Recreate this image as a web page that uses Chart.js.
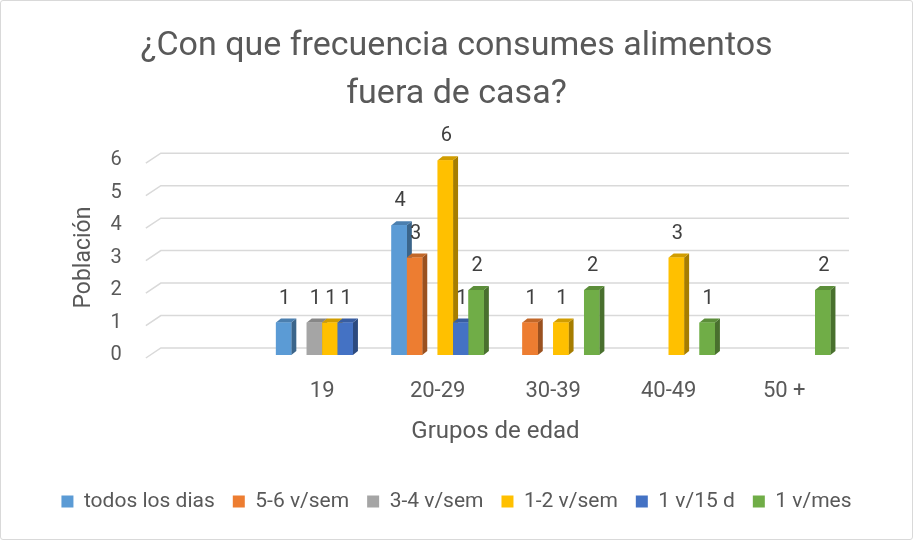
<!DOCTYPE html>
<html>
<head>
<meta charset="utf-8">
<script src="https://cdn.jsdelivr.net/npm/chart.js@4.4.0/dist/chart.umd.min.js"></script>
<style>
  body { margin: 0; background: #fff; }
  #wrap { width: 913px; height: 540px; box-sizing: border-box; border: 1px solid #d9d9d9; border-radius: 3px; }
</style>
</head>
<body>
<div id="wrap"><canvas id="chart"></canvas></div>
<script>
// datos
const categories = ["", "19", "20-29", "30-39", "40-49", "50 +"];
const seriesNames = ["todos los dias", "5-6 v/sem", "3-4 v/sem", "1-2 v/sem", "1 v/15 d", "1 v/mes"];
const todosLosDias = [null, 1, 4, null, null, null];
const cincoSeisSem = [null, null, 3, 1, null, null];
const tresCuatroSem = [null, 1, null, null, null, null];
const unoDosSem = [null, 1, 6, 1, 3, null];
const unoQuinceDias = [null, 1, 1, null, null, null];
const unoMes = [null, null, 2, 2, 1, 2];
const yTicks = [0, 1, 2, 3, 4, 5, 6];

const colors = ["#5B9BD5", "#ED7D31", "#A5A5A5", "#FFC000", "#4472C4", "#70AD47"];
const FONT = 'Roboto, sans-serif';
const D = 5, DY = 4; // profundidad 3D

function shade(hex, f) {
  const n = parseInt(hex.slice(1), 16);
  const r = Math.round(((n >> 16) & 255) * f);
  const g = Math.round(((n >> 8) & 255) * f);
  const b = Math.round((n & 255) * f);
  return `rgb(${r},${g},${b})`;
}

// lineas de fondo con el piso inclinado
const backGrid = {
  id: "backGrid",
  beforeDatasetsDraw(chart) {
    const { ctx, chartArea, scales } = chart;
    ctx.save();
    ctx.strokeStyle = "#d9d9d9";
    ctx.lineWidth = 1.5;
    yTicks.forEach(v => {
      const y = scales.y.getPixelForValue(v);
      ctx.beginPath();
      ctx.moveTo(chartArea.left - 3, y + 3);
      ctx.lineTo(chartArea.left + 12, y - 7);
      ctx.lineTo(chartArea.right + 7, y - 7);
      ctx.stroke();
    });
    ctx.restore();
  }
};

// barras 3D + etiquetas
const bars3d = {
  id: "bars3d",
  afterDatasetsDraw(chart) {
    const ctx = chart.ctx;
    ctx.save();
    chart.data.datasets.forEach((ds, i) => {
      const meta = chart.getDatasetMeta(i);
      const c = colors[i];
      meta.data.forEach((bar, j) => {
        if (ds.data[j] == null) return;
        const { x, y, base, width } = bar.getProps(["x", "y", "base", "width"], true);
        const l = x - width / 2, r = x + width / 2;
        ctx.fillStyle = shade(c, 0.65);
        ctx.beginPath();
        ctx.moveTo(r, y); ctx.lineTo(r + D, y - DY); ctx.lineTo(r + D, base - DY); ctx.lineTo(r, base);
        ctx.closePath(); ctx.fill();
        ctx.fillStyle = shade(c, 0.82);
        ctx.beginPath();
        ctx.moveTo(l, y); ctx.lineTo(l + D, y - DY); ctx.lineTo(r + D, y - DY); ctx.lineTo(r, y);
        ctx.closePath(); ctx.fill();
        ctx.fillStyle = c;
        ctx.fillRect(l, y, width, base - y);
      });
    });
    ctx.fillStyle = "#404040";
    ctx.font = "20px " + FONT;
    ctx.textAlign = "center";
    ctx.textBaseline = "middle";
    chart.data.datasets.forEach((ds, i) => {
      const meta = chart.getDatasetMeta(i);
      meta.data.forEach((bar, j) => {
        if (ds.data[j] == null) return;
        ctx.fillText(ds.data[j], bar.x + 1, bar.y - 24);
      });
    });
    ctx.restore();
  }
};

const seriesData = [todosLosDias, cincoSeisSem, tresCuatroSem, unoDosSem, unoQuinceDias, unoMes];

new Chart(document.getElementById("chart"), {
  type: "bar",
  data: {
    labels: categories,
    datasets: seriesData.map((d, i) => ({
      label: seriesNames[i],
      data: d,
      backgroundColor: colors[i],
      barPercentage: 1.0,
      categoryPercentage: 0.8
    }))
  },
  options: {
    responsive: true,
    maintainAspectRatio: false,
    animation: false,
    layout: { padding: { left: 8, right: 8, top: 0, bottom: 17 } },
    plugins: {
      title: {
        display: true,
        text: ["¿Con que frecuencia consumes alimentos", "fuera de casa?"],
        color: "#595959",
        font: { family: FONT, size: 34, weight: "normal", lineHeight: 1.4 },
        padding: { top: 22, bottom: 42 }
      },
      legend: {
        position: "bottom",
        labels: {
          color: "#595959",
          font: { family: FONT, size: 21 },
          boxWidth: 12,
          boxHeight: 12,
          padding: 18
        }
      },
      tooltip: { enabled: false }
    },
    scales: {
      x: {
        grid: { display: false, drawTicks: false },
        border: { display: false },
        ticks: { color: "#595959", font: { family: FONT, size: 22 }, padding: 23 },
        title: {
          display: true, text: "Grupos de edad", color: "#595959",
          font: { family: FONT, size: 24 }, padding: { top: 0, bottom: 27 }
        },
        afterFit(scale) { scale.height = 118; }
      },
      y: {
        min: 0, max: 6,
        grid: { display: false, drawTicks: false },
        border: { display: false },
        ticks: { stepSize: 1, autoSkip: false, color: "#595959", font: { family: FONT, size: 20 }, padding: 27 },
        title: {
          display: true, text: "Población", color: "#595959",
          font: { family: FONT, size: 23 }, padding: { top: 61, bottom: -14 }
        }
      },
      spacer: {
        type: "linear",
        position: "right",
        display: true,
        grid: { display: false, drawTicks: false },
        border: { display: false },
        ticks: { display: false },
        afterFit(scale) { scale.width = 62; }
      }
    }
  },
  plugins: [backGrid, bars3d]
});
</script>
</body>
</html>
